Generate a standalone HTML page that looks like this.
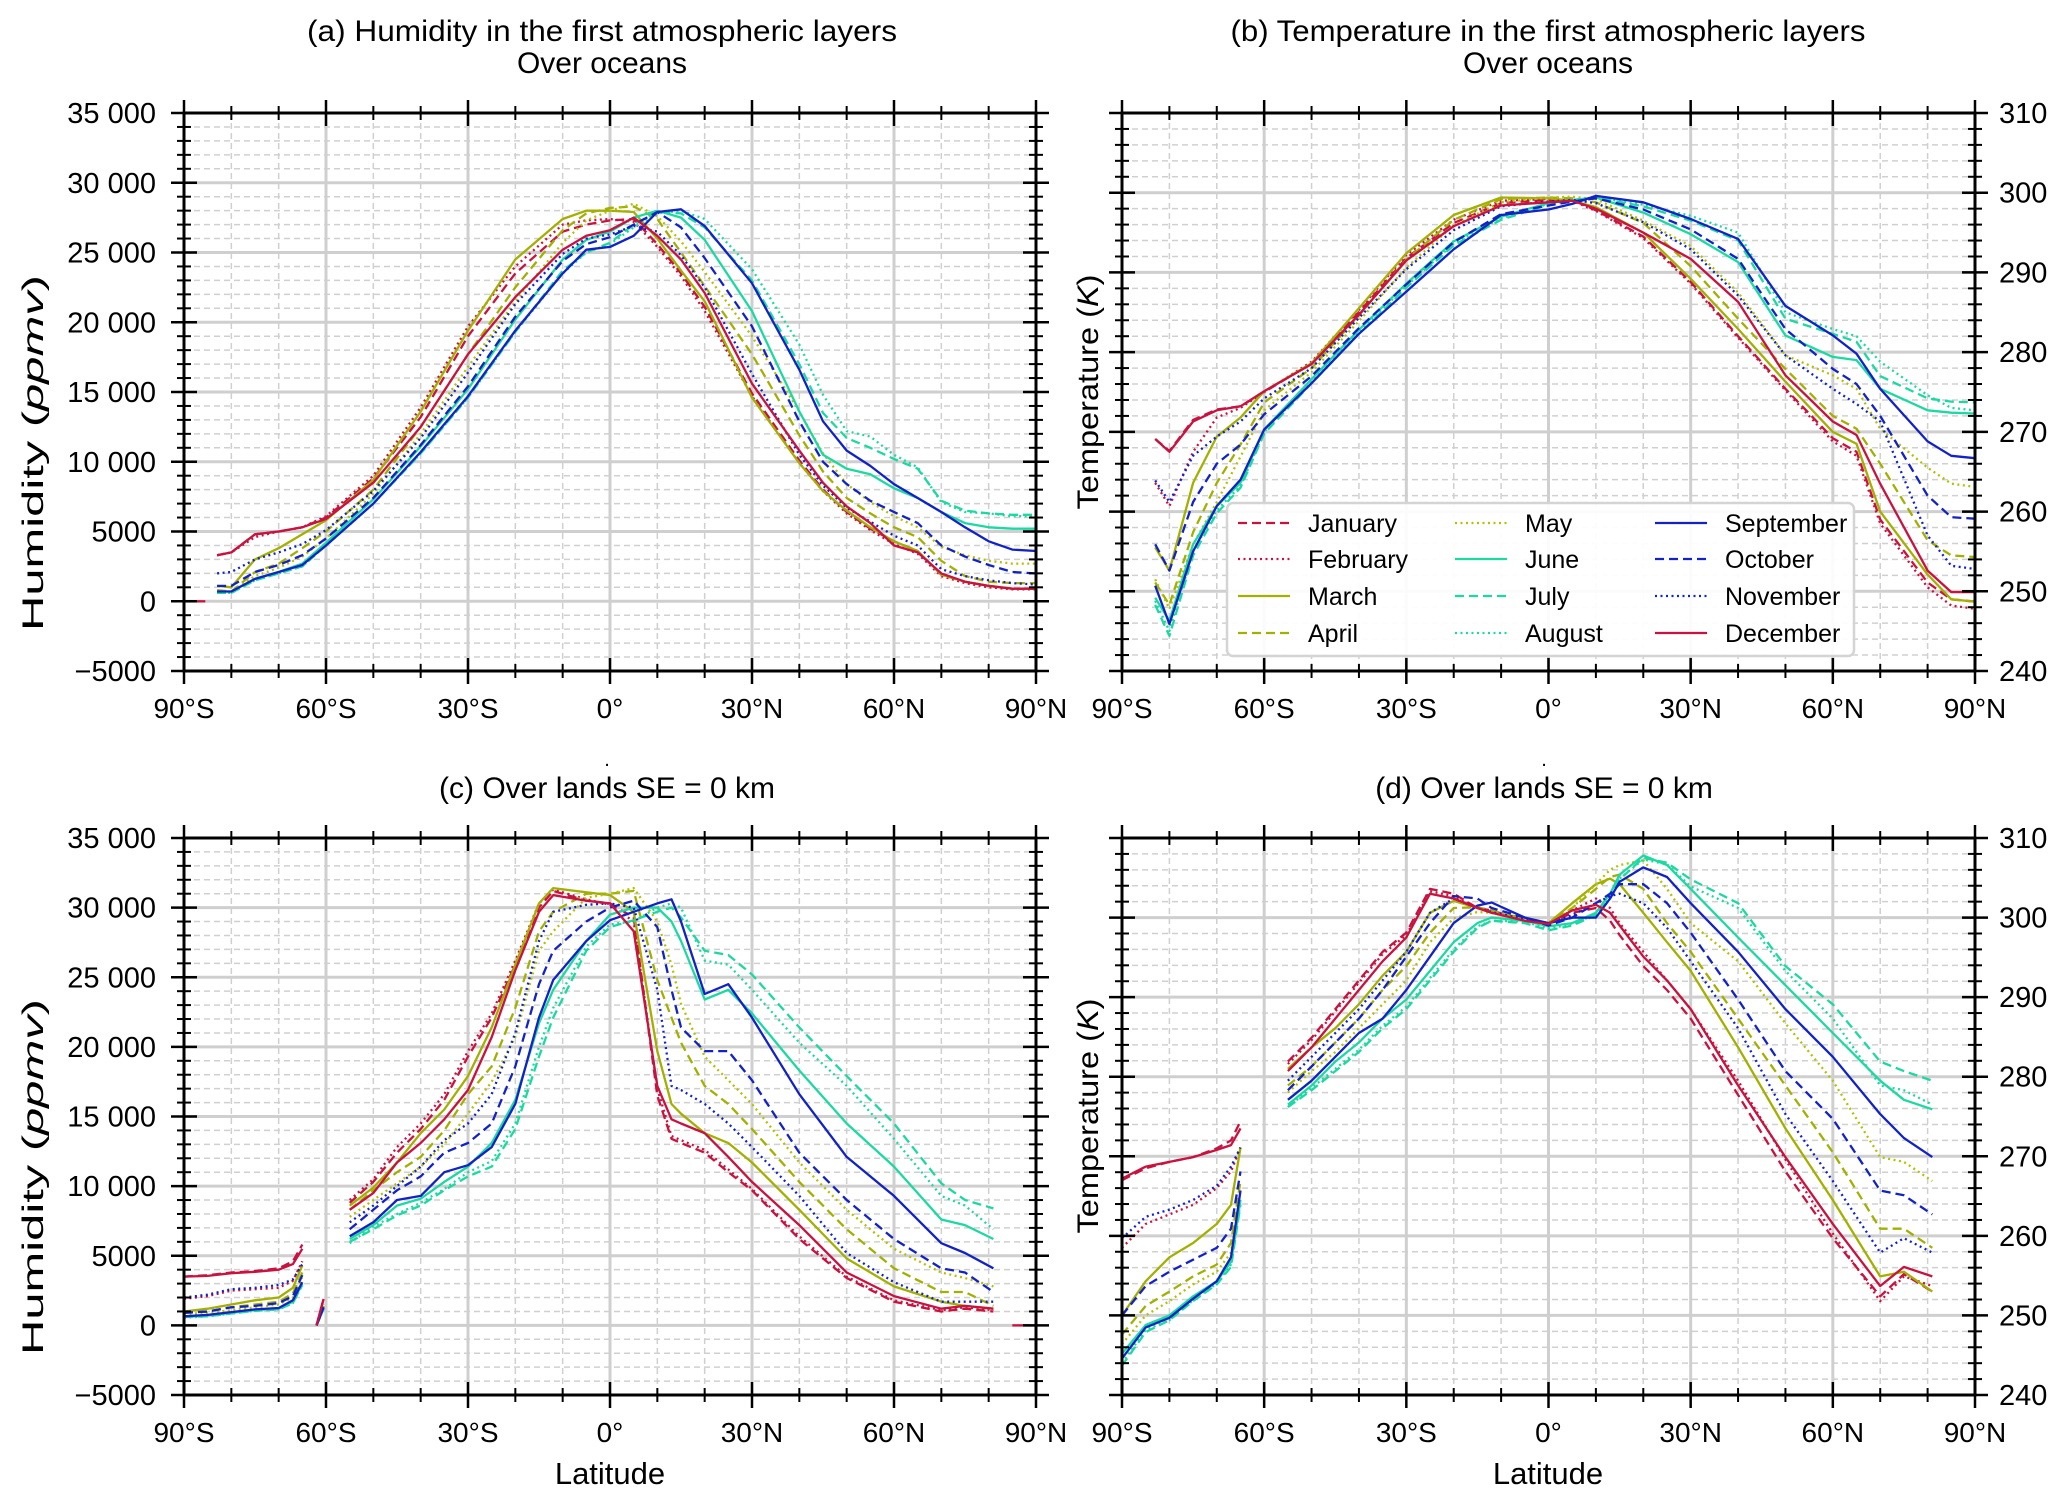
<!DOCTYPE html>
<html><head><meta charset="utf-8"><title>Humidity and temperature by latitude</title>
<style>
html,body{margin:0;padding:0;background:#fff;}
svg{display:block;font-family:"Liberation Sans",sans-serif;}
</style></head>
<body>
<svg id="fig" width="2067" height="1501" viewBox="0 0 2067 1501" xmlns="http://www.w3.org/2000/svg">
<rect x="0" y="0" width="2067" height="1501" fill="#fff"/>
<g font-size="30" fill="#000" text-anchor="middle">
<text x="602" y="41" textLength="590" lengthAdjust="spacingAndGlyphs">(a) Humidity in the first atmospheric layers</text>
<text x="602" y="73">Over oceans</text>
<text x="1548" y="41" textLength="635" lengthAdjust="spacingAndGlyphs">(b) Temperature in the first atmospheric layers</text>
<text x="1548" y="73">Over oceans</text>
<text x="607" y="766" font-size="20">.</text>
<text x="607" y="798">(c) Over lands SE = 0 km</text>
<text x="1544" y="766" font-size="20">.</text>
<text x="1544" y="798">(d) Over lands SE = 0 km</text>
<text x="610" y="1484" font-size="31">Latitude</text>
<text x="1548" y="1484" font-size="31">Latitude</text>
<text transform="translate(43,453) rotate(-90)" textLength="356" lengthAdjust="spacingAndGlyphs">Humidity (<tspan font-style="italic">ppmv</tspan>)</text>
<text transform="translate(43,1177) rotate(-90)" textLength="356" lengthAdjust="spacingAndGlyphs">Humidity (<tspan font-style="italic">ppmv</tspan>)</text>
<text transform="translate(1098,392) rotate(-90)" textLength="235" lengthAdjust="spacingAndGlyphs">Temperature (<tspan font-style="italic">K</tspan>)</text>
<text transform="translate(1098,1116) rotate(-90)" textLength="235" lengthAdjust="spacingAndGlyphs">Temperature (<tspan font-style="italic">K</tspan>)</text>
</g>
</svg>
<script>
// ---------- data ----------
const months = ['January','February','March','April','May','June','July','August','September','October','November','December'];
const xTickLabels = ['90°S','60°S','30°S','0°','30°N','60°N','90°N'];
const humTickLabels = ['−5000','0','5000','10 000','15 000','20 000','25 000','30 000','35 000'];
const tempTickLabels = ['240','250','260','270','280','290','300','310'];

// Panel (a) humidity over oceans
const latsA = [-83,-80,-75,-70,-65,-60,-50,-40,-30,-20,-10,-5,0,5,10,15,20,30,40,45,50,55,60,65,70,75,80,85,90];
const humA = [
[3300,3500,4800,5000,5300,6000,8800,13200,19000,23500,26500,27000,27300,27400,25600,23500,21100,14900,10100,8000,6400,5200,4300,3600,1900,1400,1100,900,900],
[3300,3500,4600,5000,5300,6100,9000,13900,19700,24000,27000,27300,27400,27200,25400,23300,20800,14700,9900,7900,6300,5100,4100,3400,1800,1300,1000,850,850],
[1100,1000,3000,3800,4800,5800,8700,13600,19400,24500,27400,28000,28000,27900,26000,23700,21500,14600,9900,7900,6500,5300,4300,3600,1900,1400,1100,900,900],
[800,700,2100,2700,3800,5000,8000,12500,17700,22500,26600,27800,28200,28300,27400,25000,22600,17700,11900,9300,7400,6300,5300,4600,2900,1800,1400,1300,1300],
[600,700,1800,2400,3200,4500,7700,12000,16800,21500,25700,27300,28000,28500,27600,25800,23600,19000,13600,10600,8400,7100,6100,5300,3900,3300,2900,2700,2700],
[700,700,1600,2100,2700,4200,7300,11100,15200,20200,24500,25900,26500,27500,28000,27500,25900,20800,13600,10500,9500,9100,8100,7400,6400,5600,5300,5200,5200],
[600,600,1500,2000,2500,4000,7000,10600,14600,19300,23700,25000,25700,27000,27900,27800,26800,23000,17000,13500,11700,11000,10200,9500,7200,6500,6300,6200,6200],
[600,600,1500,2000,2500,4000,7000,10600,14600,19300,23500,25000,25600,26800,27800,28000,27400,23800,18400,14800,12200,11800,10500,9600,7100,6400,6300,6100,6100],
[700,700,1600,2100,2600,4000,7000,10700,14700,19400,23500,25200,25400,26200,27900,28100,26900,22800,16600,12900,10800,9700,8400,7400,6400,5300,4300,3700,3600],
[1100,1100,2100,2600,3300,4500,7400,11200,15400,20400,24400,25600,26100,27000,27900,26800,24600,19700,12900,10000,8400,7200,6400,5600,4000,3200,2600,2100,2000],
[2000,2100,3000,3500,4100,5100,7900,11700,16400,21300,24900,26000,26300,26900,26500,24800,22500,16300,10500,8300,6700,5700,4700,4000,2300,1800,1500,1300,1200],
[3300,3500,4800,5000,5300,5900,8500,12500,17700,21800,25200,26200,26600,27500,26200,24500,22100,15600,10800,8500,6800,5600,4000,3500,2000,1400,1100,900,900]
];
const stubLatsA = [-88,-85.5];
const stubValsA = [0,0];

// Panel (b) temperature over oceans
const latsB = [-83,-80,-75,-70,-65,-60,-50,-40,-30,-20,-10,0,5,10,20,30,40,50,60,65,70,80,85,90];
const tempB = [
[269.1,267.6,271.5,272.8,273.2,275.0,278.6,285.0,291.8,296.2,298.7,299.1,299.1,297.8,294.5,288.8,282.0,275.4,269.2,267.5,259.0,251.1,249.0,248.7],
[263.6,260.7,267.5,271.8,273.0,275.0,278.8,285.3,292.2,296.6,299.0,299.2,299.0,297.7,294.3,288.6,281.8,275.2,268.8,267.0,258.5,250.5,248.2,247.8],
[255.5,252.6,263.6,269.4,271.8,275.1,278.6,285.5,292.4,297.2,299.4,299.3,299.0,298.2,295.0,289.2,282.9,276.3,270.0,268.5,260.0,252.1,249.0,248.7],
[251.1,248.3,257.4,263.6,268.4,273.7,278.0,284.6,291.6,296.6,299.2,299.4,299.3,298.8,296.2,290.8,284.2,277.9,272.0,270.4,266.0,256.4,254.5,254.3],
[251.5,247.8,255.9,261.2,266.9,272.7,277.5,283.9,290.6,295.9,298.8,299.4,299.5,299.2,296.5,293.3,287.5,279.6,277.1,275.4,270.4,265.5,263.5,263.1],
[249.2,246.3,255.9,260.7,263.6,270.3,276.6,282.8,288.6,293.9,297.0,298.7,299.1,299.4,297.5,294.8,291.3,282.1,279.4,279.0,275.4,272.7,272.4,272.3],
[248.3,244.4,254.5,259.8,263.0,269.8,276.1,282.3,288.1,293.4,296.6,298.5,299.0,299.4,298.3,296.5,294.0,284.2,282.3,281.3,277.0,274.2,273.8,273.7],
[248.8,245.0,255.0,260.2,263.2,270.0,276.3,282.5,288.3,293.6,296.8,298.6,299.0,299.4,298.5,297.1,295.0,285.0,282.9,282.0,278.8,274.6,273.0,272.7],
[250.7,245.9,255.0,260.7,264.0,270.3,276.1,282.3,287.6,292.9,297.2,297.9,298.6,299.6,298.8,296.7,294.2,285.8,282.1,279.8,275.4,268.8,267.0,266.7],
[255.9,252.6,261.2,266.0,268.4,272.2,277.0,283.0,288.5,293.8,297.3,298.4,298.9,299.3,297.9,295.4,291.7,282.9,277.9,276.0,272.0,262.0,259.3,259.1],
[263.9,261.2,267.0,269.4,271.3,274.2,278.0,284.3,290.4,295.3,298.3,298.9,299.1,298.7,296.3,292.9,287.1,279.6,275.4,273.5,271.3,257.0,253.2,252.8],
[269.1,267.5,271.3,272.7,273.2,275.1,278.5,284.7,291.5,295.8,298.4,298.8,299.0,298.0,295.0,291.7,286.3,277.1,271.3,269.6,263.5,252.6,249.9,249.9]
];

// Panels (c),(d) over lands: three latitude segments
const latsSeg1 = [-90,-85,-80,-75,-70,-67,-65];
const latsSeg2 = [-62,-60.5];
const latsSeg3 = [-55,-50,-45,-40,-35,-30,-25,-20,-15,-12,-5,0,5,10,13,15,20,25,30,40,50,60,70,75,81];
const humC1 = [
[3500,3600,3800,3900,4100,4600,5800],
[1900,2100,2500,2600,2700,3200,4600],
[1000,1200,1500,1800,2000,2700,4300],
[900,1000,1300,1500,1700,2300,3800],
[800,900,1100,1300,1500,2000,3400],
[600,700,900,1100,1200,1700,3000],
[600,650,850,1050,1150,1600,2900],
[550,650,850,1050,1150,1600,2900],
[650,750,950,1150,1250,1800,3100],
[900,1000,1300,1400,1600,2100,3600],
[2000,2200,2600,2700,2900,3300,4400],
[3500,3550,3750,3850,4000,4400,5500]
];
const humC2 = [[0,1900],[0,1900],[0,1400],[0,1300],[0,1300],[0,1200],[0,1200],[0,1200],[0,1300],[0,1300],[0,1500],[0,1900]];
const humC3 = [
[8800,10300,12400,14100,16200,19300,22100,25900,30000,31200,30500,30300,29300,16500,13400,13100,12400,11000,9700,6200,3400,1700,1000,1200,1000],
[9000,10500,12800,14500,16600,19700,22400,26200,30300,31300,30600,30200,29000,17000,13600,13300,12600,11200,9800,6400,3500,1800,1100,1300,1100],
[8600,9900,11700,13800,15500,17900,21400,25900,30300,31400,31100,30900,29700,19700,15900,15200,13800,13100,11700,8300,4800,2800,1700,1400,1200],
[8300,9700,11000,12100,14000,16600,18600,22800,28300,29700,31000,31000,31200,24800,22100,20300,17200,15900,14100,10300,6900,4100,2400,2400,1400],
[7800,9000,10200,11400,13000,15200,17500,20700,26900,28300,30700,31000,31400,29000,25900,23100,19300,17600,15900,11700,8300,5500,3800,3400,2800],
[6200,7200,8600,9100,10300,11400,13100,16200,21700,24100,27600,29500,30000,30000,29000,27600,23400,24100,22400,18300,14500,11400,7600,7200,6200],
[6000,6900,7900,8600,9700,10700,11400,14100,19300,22100,26900,28600,29100,29700,30000,29300,26900,26600,25200,21400,17900,14500,10200,9000,8400],
[5900,7100,8000,8800,9800,11000,11800,14500,20000,22800,27200,28800,29000,30000,30300,30000,26200,25900,24100,20300,17200,13400,9300,8600,6900],
[6400,7400,9000,9300,11000,11500,12800,15900,22100,24800,27600,29100,29700,30300,30600,29000,23800,24500,22100,16600,12100,9300,5900,5200,4100],
[6900,8300,9700,10700,12400,13100,14500,18600,24500,26900,29000,30000,30500,28600,24100,21400,19700,19700,17600,12400,9000,6200,4100,3800,2400],
[7400,8600,10000,11400,13300,14500,16600,21000,27600,29700,30200,30300,30000,24100,17200,16900,15900,14500,12800,9300,5200,3100,1700,1700,1700],
[8300,9500,11700,13100,14800,16900,20700,25500,29700,30900,30500,30300,28300,17200,14800,14500,13800,12100,10300,7200,3800,2100,1200,1400,1200]
];
const stubLatsC = [85,88.5];
const stubValsC = [0,0];

const tempD1 = [
[267.0,268.5,269.3,269.9,271.0,272.0,274.4],
[258.5,261.5,262.7,263.9,266.0,268.1,271.1],
[250.0,254.3,257.3,259.1,261.5,263.9,271.1],
[247.6,251.2,253.0,254.9,256.4,259.1,266.9],
[246.4,250.0,251.8,253.9,255.5,257.9,265.7],
[245.2,248.8,250.0,252.4,254.3,256.7,264.5],
[243.7,247.9,249.4,251.8,253.9,256.1,263.9],
[244.0,248.2,249.4,251.9,254.0,256.4,264.2],
[244.6,248.5,249.7,252.1,254.3,257.3,265.7],
[250.0,253.7,255.5,257.0,258.5,260.9,268.1],
[259.7,262.4,263.3,264.5,266.3,268.7,271.1],
[267.2,268.7,269.3,269.9,270.8,271.4,273.5]
];
const tempD3 = [
[281.9,284.9,288.5,292.1,295.7,298.1,303.6,303.0,301.2,300.9,299.6,299.2,300.6,301.2,299.6,297.8,293.9,290.9,287.3,277.7,268.1,259.7,252.4,255.2,253.0],
[281.6,284.6,288.2,291.8,295.4,297.8,303.3,302.7,301.2,300.7,299.6,299.3,300.9,302.4,301.2,299.3,295.7,292.1,288.5,279.5,269.6,260.3,251.8,254.9,253.7],
[281.0,283.7,286.1,289.1,292.7,295.7,300.6,302.1,301.2,300.6,300.0,299.3,301.8,304.2,304.9,304.2,300.6,296.9,293.3,283.7,273.5,264.5,254.9,255.5,253.0],
[278.9,281.3,284.3,287.3,290.9,293.9,298.1,301.2,301.3,300.9,299.6,299.3,301.2,303.6,305.1,305.4,303.6,299.3,295.7,287.3,278.9,270.5,260.9,260.9,258.5],
[278.0,280.7,283.1,286.1,289.1,292.1,296.9,299.9,300.7,300.6,299.6,299.0,301.2,304.2,306.0,306.6,307.2,303.6,299.3,294.5,286.7,279.5,269.9,269.3,266.9],
[276.5,278.9,281.9,284.3,287.3,289.7,293.3,296.9,299.3,300.0,299.6,298.9,299.3,300.6,303.0,305.4,307.8,306.6,303.6,297.5,291.5,285.5,279.5,277.1,275.9],
[276.2,278.3,280.7,283.1,286.1,288.5,292.1,295.7,298.7,299.6,299.3,298.4,299.0,300.3,302.4,304.8,307.5,306.9,304.8,301.8,293.9,289.1,281.9,280.7,279.5],
[276.2,278.6,281.0,283.4,286.4,288.8,292.4,296.0,298.9,299.6,299.5,298.6,299.2,300.4,302.7,304.9,307.3,306.7,303.9,301.2,293.3,287.3,278.9,278.3,276.5],
[277.1,279.5,282.5,285.5,287.3,290.9,295.1,299.3,301.5,301.9,300.0,299.3,300.0,300.0,302.4,304.5,306.3,305.1,301.8,295.7,288.5,282.5,275.3,272.3,269.9],
[278.3,281.3,284.3,287.3,290.9,295.1,299.3,302.7,302.4,301.2,300.0,299.0,300.0,301.8,303.0,304.2,304.2,301.8,298.1,289.7,280.7,274.7,265.7,265.1,262.7],
[279.5,282.5,285.5,288.5,292.1,295.7,300.6,302.4,301.2,300.7,299.8,299.2,300.3,301.8,302.7,303.0,301.8,298.7,294.5,286.1,275.3,266.9,257.9,259.7,257.9],
[280.7,283.7,287.3,290.9,294.5,297.5,303.0,302.4,301.2,300.6,299.6,299.2,300.9,301.6,300.6,299.0,295.1,292.1,288.5,278.9,269.9,261.5,253.7,256.1,254.9]
];

// ---------- styling ----------
const CR='#c8123f', OL='#a3b000', TQ='#1cd9a2', BL='#1222c4';
const colors=[CR,CR,OL,OL,'#b4c000',TQ,TQ,TQ,BL,BL,BL,CR];
const dashes=['9,5','2,3.5','none','9,5','2,3.5','none','9,5','2,3.5','none','9,5','2,3.5','none'];
const NS='http://www.w3.org/2000/svg';
const svg=document.getElementById('fig');

function mk(tag,attrs,parent){const e=document.createElementNS(NS,tag);for(const k in attrs)e.setAttribute(k,attrs[k]);(parent||svg).appendChild(e);return e;}

function panel(key,x0,x1,y0,y1,vmin,vmax,major,minor,labels,labelSide){
  const g=mk('g',{});
  
  
  const sx=lat=>x0+(lat+90)/180*(x1-x0);
  const sy=v=>y1-(v-vmin)/(vmax-vmin)*(y1-y0);
  for(let lat=-80;lat<90;lat+=10){ if(lat%30===0) continue;
    const l=mk('line',{x1:sx(lat),x2:sx(lat),y1:y0,y2:y1,stroke:'#d0d0d0','stroke-width':1.5,'stroke-dasharray':'6,4'},g);
    
    }
  for(let v=vmin+minor;v<vmax-1e-9;v+=minor){ if(Math.abs(((v-vmin)/major)-Math.round((v-vmin)/major))<1e-6) continue;
    const l=mk('line',{x1:x0,x2:x1,y1:sy(v),y2:sy(v),stroke:'#d0d0d0','stroke-width':1.5,'stroke-dasharray':'6,4'},g);
    
    }
  for(let lat=-60;lat<90;lat+=30){
    const l=mk('line',{x1:sx(lat),x2:sx(lat),y1:y0,y2:y1,stroke:'#cfcfcf','stroke-width':3},g);
    
    }
  for(let v=vmin+major;v<vmax;v+=major){
    const l=mk('line',{x1:x0,x2:x1,y1:sy(v),y2:sy(v),stroke:'#cfcfcf','stroke-width':3},g);
    
    }
  return {g,sx,sy,x0,x1,y0,y1,vmin,vmax,major,minor,labels,labelSide,key};
}

function frame(P){
  const {g,sx,sy,x0,x1,y0,y1,vmin,vmax,major,minor,labels,labelSide,key}=P;
  const tk=mk('g',{stroke:'#000'},g);
  
  
  for(let lat=-90;lat<=90;lat+=10){const big=lat%30===0;const L=big?13:7;const w=big?2.5:2;
    mk('line',{x1:sx(lat),x2:sx(lat),y1:y1-L,y2:y1+L,'stroke-width':w},tk);
    mk('line',{x1:sx(lat),x2:sx(lat),y1:y0-L,y2:y0+L,'stroke-width':w},tk);}
  for(let v=vmin;v<=vmax+1e-9;v+=minor){const big=Math.abs(((v-vmin)/major)-Math.round((v-vmin)/major))<1e-6;const L=big?13:7;const w=big?2.5:2;
    mk('line',{x1:x0-L,x2:x0+L,y1:sy(v),y2:sy(v),'stroke-width':w},tk);
    mk('line',{x1:x1-L,x2:x1+L,y1:sy(v),y2:sy(v),'stroke-width':w},tk);}
  const sp=mk('rect',{x:x0,y:y0,width:x1-x0,height:y1-y0,fill:'none',stroke:'#000','stroke-width':3},g);
  
  
  xTickLabels.forEach((t,i)=>{const lat=-90+30*i;
    const e=mk('text',{x:sx(lat),y:y1+47,'font-size':28,'text-anchor':'middle'},g);e.textContent=t;
    
    });
  labels.forEach((t,i)=>{const v=vmin+major*i;
    const e=mk('text',{x:labelSide==='left'?x0-28:x1+24,y:sy(v)+10,'font-size':29,'text-anchor':labelSide==='left'?'end':'start'},g);e.textContent=t;
    
    });
}

function series(P,lats,vals,m,name){
  const d=lats.map((la,i)=>(i?'L':'M')+P.sx(la).toFixed(1)+','+P.sy(vals[i]).toFixed(1)).join(' ');
  const p=mk('path',{d,fill:'none',stroke:colors[m],'stroke-width':2.3,'stroke-dasharray':dashes[m],'stroke-linejoin':'round'},P.g);
  
  
}

const A=panel('a',184,1036,113,671,-5000,35000,5000,1000,humTickLabels,'left');
const B=panel('b',1122,1975,113,671,240,310,10,2,tempTickLabels,'right');
const C=panel('c',184,1036,838,1395,-5000,35000,5000,1000,humTickLabels,'left');
const D=panel('d',1122,1975,838,1395,240,310,10,2,tempTickLabels,'right');

for(let m=0;m<12;m++){
  series(A,latsA,humA[m],m,'line-a-'+months[m].toLowerCase());
  series(B,latsB,tempB[m],m,'line-b-'+months[m].toLowerCase());
  series(C,latsSeg1,humC1[m],m,'line-c-south-'+months[m].toLowerCase());
  series(C,latsSeg2,humC2[m],m,'line-c-mid-'+months[m].toLowerCase());
  series(C,latsSeg3,humC3[m],m,'line-c-'+months[m].toLowerCase());
  series(D,latsSeg1,tempD1[m],m,'line-d-south-'+months[m].toLowerCase());
  series(D,latsSeg3,tempD3[m],m,'line-d-'+months[m].toLowerCase());
}
series(A,stubLatsA,stubValsA,11,'line-a-stub');
series(C,stubLatsC,stubValsC,11,'line-c-stub');
[A,B,C,D].forEach(frame);

// legend in panel b
const lg=mk('g',{});


mk('rect',{x:1227,y:503,width:627,height:153,rx:6,fill:'#fff','fill-opacity':0.92,stroke:'#d4d4d4','stroke-width':2.5},lg);
const colX=[1238,1455,1655];
const rowY=[523,559,596,633];
months.forEach((mo,i)=>{const c=Math.floor(i/4),r=i%4;
  const ln=mk('line',{x1:colX[c],x2:colX[c]+52,y1:rowY[r],y2:rowY[r],stroke:colors[i],'stroke-width':2.3,'stroke-dasharray':dashes[i]},lg);
  
  
  const t=mk('text',{x:colX[c]+70,y:rowY[r]+9,'font-size':25},lg);t.textContent=mo;
  
  
});
</script>
</body></html>
